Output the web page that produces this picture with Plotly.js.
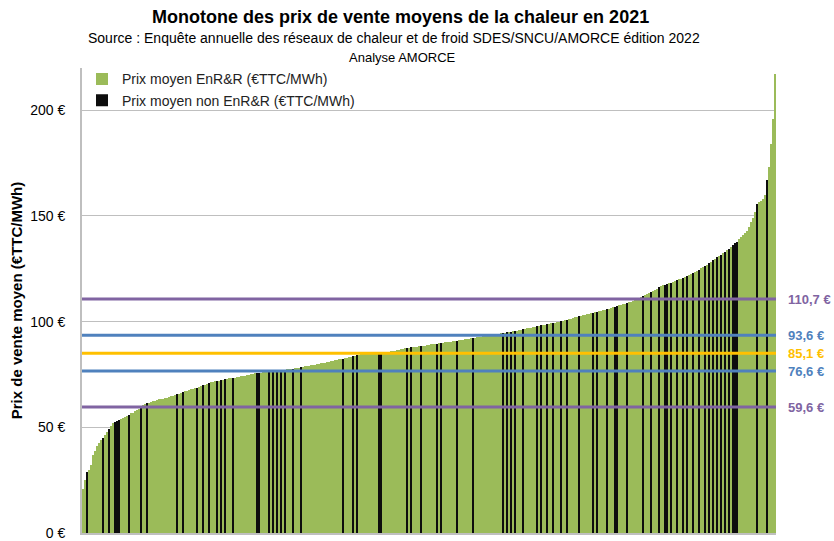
<!DOCTYPE html>
<html>
<head>
<meta charset="utf-8">
<script src="https://cdn.plot.ly/plotly-3.0.1.min.js"></script>
<style>html,body{margin:0;padding:0;background:#fff;}#chart{width:834px;height:541px;}</style>
</head>
<body>
<div id="chart"></div>
<script>
// Sorted average selling prices (€TTC/MWh), one per network
const prices = [
21,25,28.8,30,32,37,39,41,42.7,44,
45,46.2,47.8,49.2,50.5,52,52.6,53.1,53.6,54,
54.6,55,55.5,55.9,56.6,57,57.5,58.3,58.9,59.6,
60.5,61,61.4,61.7,62,62.3,62.6,62.9,63.2,63.4,
63.6,63.8,64.1,64.4,64.7,65,65.3,65.6,65.9,66.3,
66.7,67,67.3,67.6,67.9,68.2,68.5,68.8,69.1,69.4,
69.8,70.2,70.6,71,71.3,71.5,71.7,71.9,72.1,72.3,
72.5,72.7,72.9,73.1,73.2,73.3,73.5,73.7,73.9,74.1,
74.3,74.5,74.7,74.9,75.1,75.3,75.5,75.7,75.8,75.9,
76,76,76.1,76.1,76.2,76.2,76.2,76.3,76.5,76.8,
77,77.2,77.4,77.6,77.7,77.8,77.9,78.1,78.3,78.5,
78.6,78.8,79,79.2,79.3,79.5,79.7,79.9,80.1,80.3,
80.4,80.6,80.8,81,81.3,81.5,81.7,81.9,82.1,82.3,
82.5,82.8,83,83.3,83.5,83.7,83.9,84.2,84.4,84.5,
84.6,84.7,84.8,84.8,84.9,84.9,85,85,85,85.1,
85.1,85.3,85.5,85.7,85.9,86.1,86.3,86.5,86.7,86.9,
87.1,87.3,87.5,87.6,87.8,87.9,88,88.2,88.3,88.4,
88.6,88.7,88.9,89,89.2,89.3,89.5,89.6,89.8,89.9,
90.1,90.2,90.3,90.4,90.6,90.7,90.8,91,91.1,91.3,
91.5,91.6,91.8,91.9,92.1,92.3,92.4,92.6,92.8,92.9,
93.1,93.2,93.4,93.5,93.6,93.8,93.9,94.1,94.2,94.4,
94.5,94.7,94.9,95.1,95.3,95.5,95.7,95.8,96,96.2,
96.4,96.6,96.8,97,97.2,97.4,97.6,97.8,98,98.2,
98.4,98.6,98.8,99,99.2,99.4,99.5,99.7,99.9,100.1,
100.3,100.6,100.9,101.1,101.4,101.7,102,102.3,102.5,102.7,
103,103.2,103.5,103.7,103.9,104.2,104.4,104.7,104.9,105.2,
105.4,105.7,105.9,106.2,106.5,106.8,107.1,107.4,107.7,108,
108.2,108.5,108.7,109.1,109.5,109.9,110.3,110.8,111.3,111.7,
112.1,112.6,113.1,113.6,114.1,114.6,115.1,115.6,116.2,116.7,
117.1,117.4,117.8,118.2,118.5,118.9,119.3,119.7,120,120.4,
120.8,121.2,121.6,122,122.4,122.8,123.4,124,124.6,125.2,
125.8,126.4,127,127.6,128.3,129,129.7,130.4,131,131.6,
132.3,133,133.8,134.6,135.4,136.2,137,137.8,139,140.1,
141,142,143,145,147,149,152,155.5,156.5,157,
158,160,167,173,184,196,217
];
// Ranks (in the sorted list) of networks without renewable majority (non EnR&R)
const nonEnrRanks = [2,10,13,16,17,18,23,29,32,47,50,57,60,63,67,69,71,75,87,88,93,95,97,99,101,105,109,
130,135,137,148,149,162,164,169,177,179,187,195,210,212,214,216,220,227,229,232,235,239,242,248,
255,257,262,266,267,272,280,284,288,291,292,294,297,300,302,305,308,311,313,315,317,319,321,323,
325,326,327,337,342];

// Reference lines (€TTC/MWh) and their labels
const refValues = [110.7, 93.6, 85.1, 76.6, 59.6];
const refLabels = ["110,7 €", "93,6 €", "85,1 €", "76,6 €", "59,6 €"];
const refColors = ["#8064A2", "#4F81BD", "#FFC000", "#4F81BD", "#8064A2"];

const tickVals = [0, 50, 100, 150, 200];
const tickText = ["0 €", "50 €", "100 €", "150 €", "200 €"];

const seriesNames = ["Prix moyen EnR&R (€TTC/MWh)", "Prix moyen non EnR&R (€TTC/MWh)"];

const titleText = "Monotone des prix de vente moyens de la chaleur en 2021";
const sourceText = "Source : Enquête annuelle des réseaux de chaleur et de froid SDES/SNCU/AMORCE édition 2022";
const analysisText = "Analyse AMORCE";
const yTitle = "Prix de vente moyen (€TTC/MWh)";

const idx = prices.map((_, i) => i);
const nonSet = new Set(nonEnrRanks);
const enrY = prices.map((v, i) => nonSet.has(i) ? null : v);
const nonY = prices.map((v, i) => nonSet.has(i) ? v : null);

const FONT = '"Liberation Sans", Arial, sans-serif';

const traces = [
  {type: 'bar', x: idx, y: enrY, name: seriesNames[0], marker: {color: '#9BBB59', line: {width: 0}}, hoverinfo: 'y'},
  {type: 'bar', x: idx, y: nonY, name: seriesNames[1], marker: {color: '#0d0d0d', line: {width: 0}}, hoverinfo: 'y'}
];

const shapes = refValues.map((v, k) => ({
  type: 'line', xref: 'paper', yref: 'y', x0: 0, x1: 1, y0: v, y1: v,
  line: {color: refColors[k], width: 3}, layer: 'above'
}));

const annotations = refValues.map((v, k) => ({
  xref: 'paper', yref: 'y', x: 1, y: v, xanchor: 'left', yanchor: 'middle', xshift: 10,
  text: '<b>' + refLabels[k] + '</b>', showarrow: false,
  font: {family: FONT, size: 13, color: refColors[k]}
}));

annotations.push(
  {xref: 'paper', yref: 'paper', x: 0.5, y: 1, xanchor: 'center', yanchor: 'middle', yshift: 51, xshift: -29,
   text: '<b>' + titleText + '</b>', showarrow: false,
   font: {family: FONT, size: 18, color: '#000'}},
  {xref: 'paper', yref: 'paper', x: 0.5, y: 1, xanchor: 'center', yanchor: 'middle', yshift: 30, xshift: -35,
   text: sourceText, showarrow: false,
   font: {family: FONT, size: 14, color: '#000'}},
  {xref: 'paper', yref: 'paper', x: 0.5, y: 1, xanchor: 'center', yanchor: 'middle', yshift: 11, xshift: -27,
   text: analysisText, showarrow: false,
   font: {family: FONT, size: 13, color: '#000'}}
);

const layout = {
  width: 834, height: 541,
  margin: {l: 82, r: 58, t: 68, b: 8},
  paper_bgcolor: '#fff', plot_bgcolor: '#fff',
  barmode: 'overlay', bargap: 0,
  showlegend: true,
  legend: {x: 0.0, y: 1.01, xanchor: 'left', yanchor: 'top', bgcolor: 'rgba(255,255,255,0)',
           font: {family: FONT, size: 14, color: '#222'}, tracegroupgap: 0},
  font: {family: FONT, color: '#000'},
  xaxis: {range: [-0.5, prices.length - 0.5], showticklabels: false, showgrid: false, zeroline: false,
          showline: true, linecolor: '#bfbfbf', linewidth: 2, ticks: ''},
  yaxis: {range: [0, 220], tickvals: tickVals, ticktext: tickText, showgrid: true, gridcolor: '#bfbfbf',
          gridwidth: 1, zeroline: false, showline: true, linecolor: '#bfbfbf', linewidth: 2,
          ticks: '', ticklabelstandoff: 12, tickfont: {family: FONT, size: 14, color: '#000'},
          title: {text: '<b>' + yTitle + '</b>', font: {family: FONT, size: 15, color: '#000'}, standoff: 4}},
  shapes: shapes,
  annotations: annotations
};

Plotly.newPlot('chart', traces, layout, {displayModeBar: false, staticPlot: true});
</script>
</body>
</html>
